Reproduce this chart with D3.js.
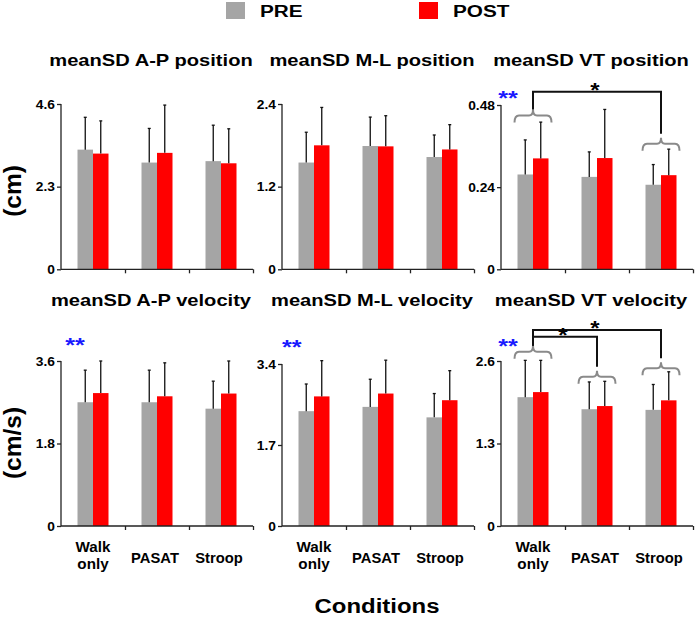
<!DOCTYPE html>
<html>
<head>
<meta charset="utf-8">
<script src="https://cdn.jsdelivr.net/npm/d3@7"></script>
<style>
  html, body { margin: 0; padding: 0; background: #fff; }
  svg { display: block; font-family: "Liberation Sans", Arial, sans-serif; font-weight: bold; }
</style>
</head>
<body>
<svg id="chart" width="696" height="617"></svg>
<script>
// ---------- DATA ----------
const categories = ["Walk only", "PASAT", "Stroop"];
const seriesNames = ["PRE", "POST"];
const panelTitles = [
  "meanSD A-P position", "meanSD M-L position", "meanSD VT position",
  "meanSD A-P velocity", "meanSD M-L velocity", "meanSD VT velocity"
];
const yMaxValues = [4.6, 2.4, 0.48, 3.6, 3.4, 2.6];
const tickLabels = [
  ["0", "2.3", "4.6"], ["0", "1.2", "2.4"], ["0", "0.24", "0.48"],
  ["0", "1.8", "3.6"], ["0", "1.7", "3.4"], ["0", "1.3", "2.6"]
];
const preMeans = [
  [3.33, 2.97, 3.01], [1.55, 1.79, 1.63], [0.277, 0.270, 0.247],
  [2.70, 2.70, 2.56], [2.41, 2.50, 2.28], [2.03, 1.84, 1.83]
];
const preSD = [
  [0.90, 0.95, 1.00], [0.44, 0.42, 0.32], [0.101, 0.073, 0.059],
  [0.70, 0.70, 0.60], [0.57, 0.58, 0.50], [0.58, 0.43, 0.40]
];
const postMeans = [
  [3.22, 3.24, 2.95], [1.80, 1.785, 1.74], [0.324, 0.325, 0.275],
  [2.90, 2.83, 2.89], [2.72, 2.78, 2.64], [2.11, 1.89, 1.98]
];
const postSD = [
  [0.91, 1.33, 0.96], [0.55, 0.445, 0.36], [0.106, 0.142, 0.076],
  [0.70, 0.73, 0.71], [0.75, 0.70, 0.62], [0.50, 0.39, 0.45]
];
// significance annotations (panel index, value levels in data units)
const mainEffectPanels = [2, 3, 4, 5];           // blue "**"
const braceGroups = [
  { panel: 2, group: 0, level: 0.449 }, { panel: 2, group: 2, level: 0.3665 },
  { panel: 5, group: 0, level: 2.747 }, { panel: 5, group: 1, level: 2.353 }, { panel: 5, group: 2, level: 2.485 }
];
const pairLinks = [
  { panel: 2, from: 0, to: 2, level: 0.519 },
  { panel: 5, from: 0, to: 2, level: 3.088 },
  { panel: 5, from: 0, to: 1, level: 2.983 }
];
const yAxisLabels = ["(cm)", "(cm/s)"];
const xAxisTitle = "Conditions";

// ---------- LAYOUT ----------
const colors = { PRE: "#a5a5a5", POST: "#ff0000" };
const panelX0 = [61, 282, 501, 61, 282, 501];
const panelZeroY = [269.3, 269.3, 269.3, 526, 526, 526];
const panelTopY = [104, 104, 105, 361, 364, 361];
const panelW = 192;
const starPos = { 2: [508, 93], 3: [75, 340.7], 4: [291.7, 342.3], 5: [508, 341.7] };
const SX = 1.2; // horizontal stretch of the reference text

const svg = d3.select("#chart");

function stext(g, x, y, str, size, anchor, sx, fill) {
  return g.append("text")
    .attr("transform", `translate(${x},${y}) scale(${sx},1)`)
    .attr("text-anchor", anchor)
    .attr("font-size", size)
    .attr("fill", fill || "#000")
    .text(str);
}

// Legend
const legend = svg.append("g");
const legendX = [226, 419];
seriesNames.forEach((s, i) => {
  legend.append("rect").attr("x", legendX[i]).attr("y", 2).attr("width", 19).attr("height", 17).attr("fill", colors[s]);
  stext(legend, legendX[i] + 34, 17.3, s, 17, "start", 1.22);
});

// Panels
panelTitles.forEach((title, p) => {
  const g = svg.append("g").attr("transform", `translate(${panelX0[p]},0)`);
  const x = d3.scaleBand().domain(categories).range([0, panelW]).paddingInner(0).paddingOuter(0);
  const xs = d3.scaleBand().domain(seriesNames).range([16.5, 47.5]).padding(0);
  const y = d3.scaleLinear().domain([0, yMaxValues[p]]).range([panelZeroY[p], panelTopY[p]]);

  // title
  stext(g, panelW / 2 - 6, p < 3 ? 66 : 306, title, 16.5, "middle", 1.22);

  // bars
  const rows = [];
  categories.forEach((c, i) => {
    rows.push({ c, s: "PRE", v: preMeans[p][i], sd: preSD[p][i] });
    rows.push({ c, s: "POST", v: postMeans[p][i], sd: postSD[p][i] });
  });
  g.selectAll("rect.bar").data(rows).join("rect")
    .attr("class", "bar")
    .attr("x", d => x(d.c) + xs(d.s))
    .attr("width", xs.bandwidth())
    .attr("y", d => y(d.v))
    .attr("height", d => y(0) - y(d.v))
    .attr("fill", d => colors[d.s]);
  const eb = g.selectAll("g.err").data(rows).join("g").attr("class", "err");
  eb.append("line")
    .attr("x1", d => x(d.c) + xs(d.s) + xs.bandwidth() / 2)
    .attr("x2", d => x(d.c) + xs(d.s) + xs.bandwidth() / 2)
    .attr("y1", d => y(d.v))
    .attr("y2", d => y(d.v + d.sd))
    .attr("stroke", "#111").attr("stroke-width", 1.3);
  eb.append("line")
    .attr("x1", d => x(d.c) + xs(d.s) + xs.bandwidth() / 2 - 1.5)
    .attr("x2", d => x(d.c) + xs(d.s) + xs.bandwidth() / 2 + 1.5)
    .attr("y1", d => y(d.v + d.sd))
    .attr("y2", d => y(d.v + d.sd))
    .attr("stroke", "#111").attr("stroke-width", 1.3);

  // y axis
  const tvals = tickLabels[p].map(Number);
  const yAxis = d3.axisLeft(y).tickValues(tvals).tickSize(4).tickPadding(2)
    .tickFormat((d, i) => tickLabels[p][i]);
  const ya = g.append("g").call(yAxis);
  ya.select(".domain").attr("stroke", "#222").attr("stroke-width", 1.3).attr("d", `M0,${y(yMaxValues[p])}V${y(0)}`);
  ya.selectAll(".tick line").attr("stroke", "#222").attr("stroke-width", 1.3);
  ya.selectAll(".tick text")
    .attr("x", null).attr("dy", null)
    .attr("transform", "translate(-6,4.2) scale(1.15,1)")
    .attr("font-size", 12).attr("font-family", null).attr("fill", "#000");

  // x axis with ticks at band boundaries
  const xb = d3.scaleLinear().domain([0, categories.length]).range([0, panelW]);
  const xAxis = d3.axisBottom(xb).tickValues([1, 2, 3]).tickSize(4).tickFormat("");
  const xa = g.append("g").attr("transform", `translate(0,${y(0)})`).call(xAxis);
  xa.select(".domain").attr("stroke", "#222").attr("stroke-width", 1.3).attr("d", `M0,0H${panelW}`);
  xa.selectAll(".tick line").attr("stroke", "#222").attr("stroke-width", 1.3);

  // category labels on bottom row
  if (p >= 3) {
    categories.forEach(c => {
      const cx = x(c) + x.bandwidth() / 2;
      const words = c.split(" ");
      if (words.length > 1) {
        stext(g, cx, 551.7, words[0], 14.5, "middle", 1.05);
        stext(g, cx, 569, words[1], 14.5, "middle", 1.05);
      } else {
        stext(g, cx - 2, 563, c, 14.5, "middle", 1.02);
      }
    });
  }

  // blue ** main effect
  if (mainEffectPanels.includes(p)) {
    const [sxp, syp] = starPos[p];
    stext(svg, sxp, syp + 11.5, "**", 21, "middle", SX, "#1a1aff");
  }

  // braces
  const cxOf = i => x(categories[i]) + x.bandwidth() / 2;
  const braceTip = {};
  braceGroups.filter(b => b.panel === p).forEach(b => {
    const cx = cxOf(b.group), yy = y(b.level), hw = 18.5;
    braceTip[b.group] = yy - 6;
    const path = `M${cx - hw},${yy + 7} Q${cx - hw},${yy} ${cx - hw + 4.5},${yy} L${cx - 4},${yy} Q${cx},${yy} ${cx},${yy - 6} Q${cx},${yy} ${cx + 4},${yy} L${cx + hw - 4.5},${yy} Q${cx + hw},${yy} ${cx + hw},${yy + 7}`;
    g.append("path").attr("d", path).attr("fill", "none").attr("stroke", "#8a8a8a").attr("stroke-width", 2);
  });
  pairLinks.filter(l => l.panel === p).forEach(l => {
    const x1 = cxOf(l.from), x2 = cxOf(l.to), yl = y(l.level);
    g.append("path")
      .attr("d", `M${x1},${braceTip[l.from]} V${yl} H${x2} V${braceTip[l.to] - 4}`)
      .attr("fill", "none").attr("stroke", "#111").attr("stroke-width", 2);
    stext(g, (x1 + x2) / 2 - 2, yl - 6 + 11, "*", 20, "middle", SX);
  });
});

// axis titles
svg.append("text").attr("transform", "translate(21,191) rotate(-90)")
  .attr("text-anchor", "middle").attr("font-size", 24.5).text(yAxisLabels[0]);
svg.append("text").attr("transform", "translate(21,443) rotate(-90)")
  .attr("text-anchor", "middle").attr("font-size", 24.5).text(yAxisLabels[1]);
stext(svg, 377, 613, xAxisTitle, 21, "middle", 1.14);
</script>
</body>
</html>
